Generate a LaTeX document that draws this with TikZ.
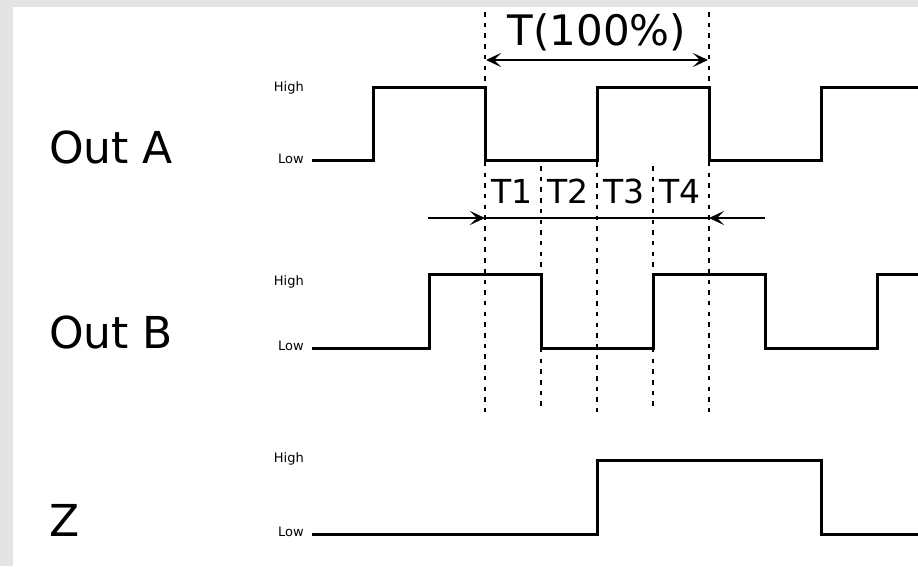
\documentclass[tikz,border=0pt]{standalone}
\usepackage{fontspec}
\setmainfont{DejaVu Sans}
\usetikzlibrary{arrows.meta, math}
\definecolor{mygray}{RGB}{228,228,228}

\tikzset{
  wave/.style={line width=3.0, line join=miter},
  guide/.style={line width=2.8, dash pattern=on 4.5pt off 6.2pt},
  dim/.style={line width=2.2, -{Stealth[length=15pt, width=14pt, inset=7pt]}},
  dimboth/.style={line width=2.2, {Stealth[length=15pt, width=14pt, inset=7pt]}-{Stealth[length=15pt, width=14pt, inset=7pt]}},
  sig/.style={font=\fontsize{44}{50}\selectfont, inner sep=0, anchor=base west},
  lvl/.style={font=\fontsize{13}{15}\selectfont, inner sep=0, anchor=base east},
  tlab/.style={font=\fontsize{33}{38}\selectfont, inner sep=0, anchor=base},
}

\begin{document}
\begin{tikzpicture}[x=1pt, y=-1pt]
\tikzmath{
\q=56;
\xs=312;
\xe=918;
\xa=485;
\yb=412;
}
\fill[mygray] (0,0) rectangle (918,566);
\fill[white] (13,7) rectangle (918,566);
\useasboundingbox (0,0) rectangle (918,566);

\node[sig] (outA) at (49,163) {Out A};
\node[sig] (outB) at (49,348) {Out B};
\node[sig] (outZ) at (49,536) {Z};

\node[lvl] (hiA) at (304,91) {High};
\node[lvl] (loA) at (304,163) {Low};
\node[lvl] (hiB) at (304,285) {High};
\node[lvl] (loB) at (304,350) {Low};
\node[lvl] (hiZ) at (304,462) {High};
\node[lvl] (loZ) at (304,536) {Low};

\draw[wave] (\xs,160) -| (\xa-2*\q,87) -| (\xa,160) -| (\xa+2*\q,87) -| (\xa+4*\q,160) -| (\xa+6*\q,87) -- (\xe,87);
\draw[wave] (\xs,348) -| (\xa-\q,274) -| (\xa+\q,348) -| (\xa+3*\q,274) -| (\xa+5*\q,348) -| (\xa+7*\q,274) -- (\xe,274);
\draw[wave] (\xs,534) -| (\xa+2*\q,460) -| (\xa+6*\q,534) -- (\xe,534);

\foreach \i/\yt in {0/12, 1/166, 2/162, 3/166, 4/12} {
  \coordinate (top\i) at (\xa+\i*\q,\yt);
  \coordinate (bot\i) at (\xa+\i*\q,\yb);
  \draw[guide] (top\i) -- (bot\i);
}

\coordinate (perL) at (\xa+1,60);
\coordinate (perR) at (\xa+4*\q-1,60);
\draw[dimboth] (perL) -- (perR);
\node[tlab, font=\fontsize{42}{48}\selectfont] (per) at (\xa+2*\q,45) {T(100\%)};

\foreach \i in {1,...,4}
  \node[tlab] (t\i) at (\xa+\i*\q-\q/2-1,203) {T\i};

\coordinate (inL) at (428,218);
\coordinate (inR) at (765,218);
\coordinate (tipL) at (\xa,218);
\coordinate (tipR) at (\xa+4*\q,218);
\draw[line width=2.2] (tipL) -- (tipR);
\draw[dim] (inL) -- (tipL);
\draw[dim] (inR) -- (tipR);
\end{tikzpicture}
\end{document}
